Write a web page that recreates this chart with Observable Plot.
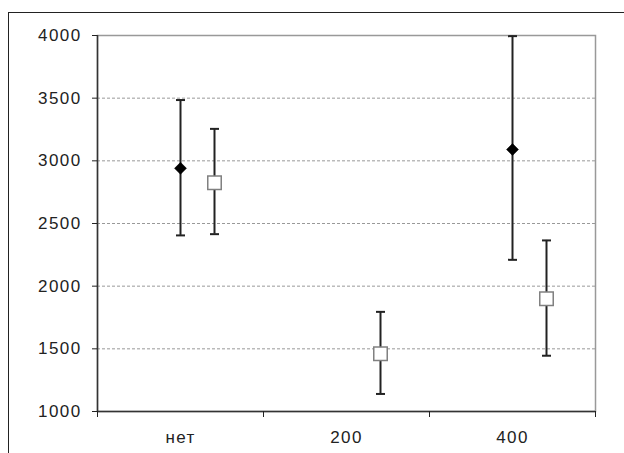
<!DOCTYPE html>
<html>
<head>
<meta charset="utf-8">
<script src="https://cdn.jsdelivr.net/npm/d3@7"></script>
<script src="https://cdn.jsdelivr.net/npm/@observablehq/plot@0.6"></script>
<style>
  html, body { margin: 0; padding: 0; background: #fff; overflow: hidden; }
  #wrap { position: relative; width: 624px; height: 453px; }
  #outer { position: absolute; left: 8px; top: 12px; width: 700px; height: 500px;
           border-top: 1.5px solid #222; border-left: 1.5px solid #222; pointer-events: none; }
  svg text { letter-spacing: 1.4px; }
</style>
</head>
<body>
<div id="wrap"><div id="chart"></div><div id="outer"></div></div>
<script>
// Categories (x axis)
const categories = ["нет", "200", "400"];
// Series 1: black diamonds (mean, lower and upper error bound)
const diamondMean = [2940, null, 3090];
const diamondLow  = [2405, null, 2210];
const diamondHigh = [3485, null, 3995];
// Series 2: white squares
const squareMean = [2825, 1460, 1900];
const squareLow  = [2415, 1140, 1445];
const squareHigh = [3255, 1795, 2365];
// Y axis ticks
const yTicks = [1000, 1500, 2000, 2500, 3000, 3500, 4000];
const gridLines = [1500, 2000, 2500, 3000, 3500];

function build(mean, low, high) {
  return categories.map((c, i) => ({cat: c, pos: i + 0.5, mean: mean[i], low: low[i], high: high[i]}))
    .filter(d => d.mean != null);
}
const diamonds = build(diamondMean, diamondLow, diamondHigh);
const squares = build(squareMean, squareLow, squareHigh);

const cap = {draw(context) { context.moveTo(-4.5, 0); context.lineTo(4.5, 0); }};
const barColor = "#222";
const sqOffset = 34;

const chart = Plot.plot({
  width: 624,
  height: 453,
  marginLeft: 97,
  marginRight: 29,
  marginTop: 35,
  marginBottom: 42,
  style: {fontFamily: "'Liberation Sans', Arial, sans-serif", fontSize: "17px", color: "#222", background: "white"},
  x: {type: "linear", domain: [0, categories.length]},
  y: {domain: [1000, 4000]},
  marks: [
    Plot.ruleY(gridLines, {stroke: "#999", strokeDasharray: "3,2", strokeWidth: 1}),
    Plot.frame({stroke: "#999", strokeWidth: 1.5}),
    Plot.ruleX([0], {stroke: "#333", strokeWidth: 1.5}),
    Plot.ruleY([1000], {stroke: "#333", strokeWidth: 1.5}),
    Plot.axisY({ticks: yTicks, tickSize: 5, tickPadding: 11, label: null, fontSize: 17, tickFormat: d => String(d)}),
    Plot.axisX({ticks: d3.range(categories.length + 1), tickSize: 6, tickFormat: () => "", label: null}),
    Plot.axisX({ticks: categories.map((c, i) => i + 0.5), tickSize: 0, tickPadding: 19,
                tickFormat: d => categories[Math.floor(d)], label: null, fontSize: 17}),
    // Diamond error bars
    Plot.ruleX(diamonds, {x: "pos", y1: "low", y2: "high", stroke: barColor, strokeWidth: 2}),
    Plot.dot(diamonds, {x: "pos", y: "low", symbol: cap, stroke: barColor, strokeWidth: 2}),
    Plot.dot(diamonds, {x: "pos", y: "high", symbol: cap, stroke: barColor, strokeWidth: 2}),
    Plot.dot(diamonds, {x: "pos", y: "mean", symbol: "diamond2", r: 5.4, fill: "#000", stroke: "#000", strokeWidth: 0.5}),
    // Square error bars
    Plot.ruleX(squares, {x: "pos", y1: "low", y2: "high", dx: sqOffset, stroke: barColor, strokeWidth: 2}),
    Plot.dot(squares, {x: "pos", y: "low", dx: sqOffset, symbol: cap, stroke: barColor, strokeWidth: 2}),
    Plot.dot(squares, {x: "pos", y: "high", dx: sqOffset, symbol: cap, stroke: barColor, strokeWidth: 2}),
    Plot.dot(squares, {x: "pos", y: "mean", dx: sqOffset, symbol: "square", r: 7.6, fill: "#fff", stroke: "#808080", strokeWidth: 1.5})
  ]
});
document.getElementById("chart").appendChild(chart);
</script>
</body>
</html>
